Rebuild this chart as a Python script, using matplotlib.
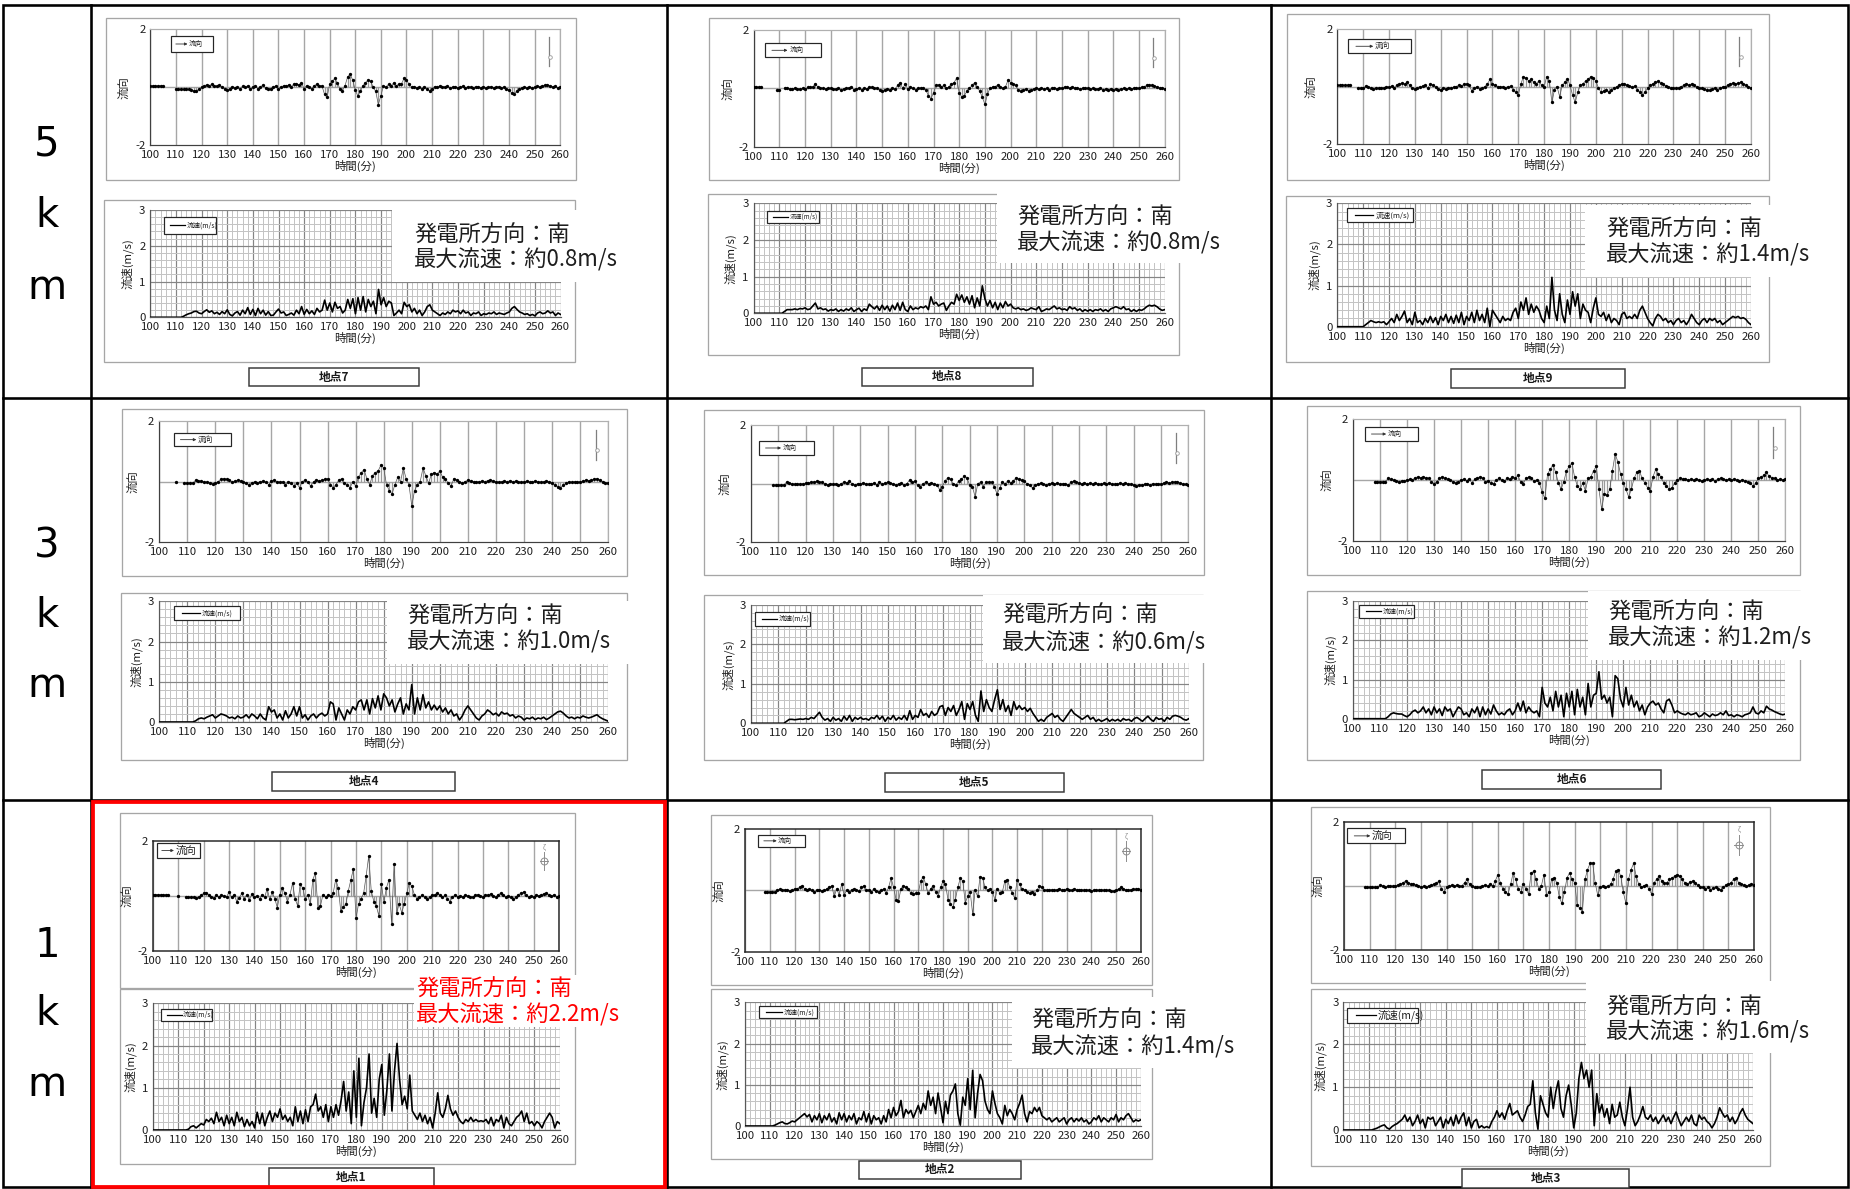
import numpy as np
import matplotlib
matplotlib.use('Agg')
import matplotlib.pyplot as plt
from matplotlib.patches import Rectangle

plt.rcParams['font.family'] = ['Noto Sans CJK JP', 'DejaVu Sans']

nan = float('nan')
T0 = 100  # first minute of every series, one value per minute

# ---------------- data (minute 100 .. 260) ----------------
S7 = [0,0,0,0,0,0,0,0,0,0,
      0,0,0,0.03,0.07,0.1,0.12,0.16,0.17,0.12,
      0.1,0.16,0.21,0.14,0.18,0.1,0.14,0.08,0.16,0.1,
      0.21,0.08,0.04,0.12,0.16,0.06,0.2,0.1,0.27,0.08,
      0.22,0.05,0.25,0.1,0.2,0.06,0.16,0.05,0.06,0.15,
      0.23,0.12,0.15,0.05,0.08,0.12,0.06,0.2,0.1,0.3,
      0.08,0.22,0.1,0.18,0.08,0.25,0.15,0.2,0.48,0.2,
      0.4,0.15,0.42,0.25,0.3,0.12,0.2,0.5,0.25,0.52,
      0.1,0.55,0.2,0.58,0.15,0.5,0.3,0.45,0.1,0.78,
      0.35,0.55,0.3,0.45,0.4,0.05,0.12,0.2,0.1,0.42,
      0.3,0.35,0.15,0.25,0.1,0.2,0.05,0.15,0.3,0.35,
      0.2,0.15,0.1,0.05,0.12,0.08,0.15,0.1,0.2,0.15,
      0.18,0.1,0.2,0.12,0.15,0.05,0.12,0.1,0.15,0.05,
      0.1,0.08,0.12,0.1,0.15,0.08,0.12,0.1,0.08,0.12,
      0.15,0.25,0.3,0.22,0.15,0.12,0.08,0.1,0.05,0.08,
      0.04,0.12,0.15,0.1,0.12,0.18,0.12,0.15,0.05,0.12,
      0.08]
V7 = [0.05,0.05,0.05,0.05,0.05,0.05,nan,nan,nan,nan,
      -0.07,-0.07,-0.07,-0.07,-0.05,-0.08,-0.1,-0.12,-0.12,-0.08,
      0,0.05,0.08,0.05,0.1,0.05,0.03,0.08,0,-0.05,
      -0.1,-0.05,0.02,-0.03,0,-0.06,0.03,0,0.05,-0.08,
      0,0.05,-0.06,0.02,0.06,-0.03,-0.06,-0.05,0,0.05,
      -0.05,0,0.05,0.03,0.08,0.02,0.1,0.12,0.08,0.15,
      -0.05,0.05,0,-0.05,0.05,0.1,0.05,0.05,-0.25,-0.35,
      0.1,0.2,0.3,0.15,-0.05,-0.12,0.05,0.35,0.45,0.25,
      -0.1,-0.3,-0.15,0.05,0.15,0.25,0.2,0,-0.15,-0.6,
      -0.3,0.05,0,0.1,0.05,0.15,0.05,0.1,0.1,0.3,
      0.25,0.1,0,0.02,-0.03,0,-0.05,0.02,-0.08,-0.12,
      -0.05,0.02,0,0.05,0.02,0,0.03,-0.02,0,0.02,
      -0.03,0,0.03,-0.02,0.02,0,-0.03,0.02,0,-0.02,
      0.02,-0.03,0,0.02,-0.02,0,0.02,-0.02,0,-0.05,
      -0.1,-0.2,-0.22,-0.15,-0.08,-0.03,0,-0.03,0.02,-0.02,
      0,0.03,0.02,0.05,0.06,0.08,0.05,0.02,0.03,-0.02,
      0]

S8 = [0,0,0,0,0,0,0,0,0,0,
      0,0,0.05,0.1,0.1,0.1,0.12,0.1,0.13,0.12,
      0.15,0.1,0.12,0.2,0.28,0.12,0.15,0.1,0.12,0.06,
      0.1,0.08,0.12,0.05,0.1,0.06,0.12,0.08,0.15,0.05,
      0.1,0.14,0.05,0.12,0.08,0.25,0.18,0.12,0.2,0.08,
      0.22,0.1,0.2,0.06,0.22,0.1,0.28,0.08,0.3,0.1,
      0.05,0.2,0.1,0.15,0.12,0.18,0.15,0.2,0.1,0.45,
      0.25,0.3,0.2,0.25,0.28,0.08,0.2,0.3,0.25,0.52,
      0.35,0.5,0.3,0.45,0.25,0.48,0.15,0.42,0.2,0.75,
      0.4,0.2,0.35,0.15,0.3,0.1,0.28,0.15,0.32,0.2,
      0.25,0.15,0.12,0.15,0.1,0.12,0.08,0.1,0.15,0.12,
      0.1,0.18,0.05,0.08,0.12,0.1,0.15,0.2,0.12,0.15,
      0.1,0.12,0.08,0.18,0.12,0.15,0.08,0.12,0.05,0.1,
      0.06,0.1,0.05,0.1,0.08,0.12,0.06,0.1,0.05,0.12,
      0.15,0.18,0.15,0.12,0.18,0.1,0.12,0.05,0.1,0.05,
      0.1,0.08,0.12,0.18,0.22,0.2,0.22,0.18,0.12,0.08,
      0.1]
V8 = [0.05,0.05,0.05,0.05,nan,nan,nan,nan,nan,-0.06,
      -0.06,nan,0.02,0,-0.02,-0.03,0,-0.02,-0.03,0,
      -0.02,0.03,0.05,0.05,0.15,0.05,0.02,0,-0.02,0,
      0,-0.02,-0.03,0,-0.05,-0.02,0,0.02,0.05,-0.05,
      -0.03,0,-0.04,0,-0.02,0.05,0.03,0,0.02,-0.05,
      -0.08,-0.05,-0.03,-0.06,0,-0.03,0.1,0.2,0,0.15,
      -0.03,0.03,0,-0.05,0,0.02,0,-0.05,-0.25,-0.35,
      -0.15,0.1,0.12,0.05,0.1,0,0.05,0.15,0.2,0.35,
      -0.15,-0.3,-0.25,-0.1,0,0.1,0.2,0.05,-0.1,-0.3,
      -0.55,-0.2,0,0.05,0.05,0.12,0.05,0,0.05,0.28,
      0.2,0.15,0.1,-0.05,-0.1,-0.05,-0.03,-0.08,-0.05,-0.02,
      0,-0.03,0.02,-0.02,0,-0.05,0,0.02,-0.02,0,
      0.02,0.05,0.03,0,0.05,0.02,0,-0.02,0,0.02,
      0,-0.02,0,-0.03,-0.02,0,-0.05,-0.03,-0.05,-0.02,
      -0.05,-0.03,-0.06,-0.02,0,-0.03,0,-0.02,0,0.02,
      0,0.03,0.05,0.1,0.12,0.1,0.08,0.05,0.02,0,
      -0.02]

S9 = [0,0,0,0,0,0,0,0,0,0,
      0,0.05,0.1,0.15,0.12,0.1,0.12,0.1,0.12,0.05,
      0.12,0.2,0.1,0.3,0.15,0.25,0.38,0.1,0.2,0.05,
      0.35,0.1,0.15,0.05,0.2,0.1,0.25,0.1,0.22,0.05,
      0.25,0.15,0.3,0.1,0.25,0.08,0.28,0.1,0.35,0.05,
      0.25,0.15,0.35,0.1,0.4,0.15,0.3,0.1,0.45,0,
      0.4,0.3,0.2,0.1,0.25,0.15,0.2,0.15,0.35,0.45,
      0.2,0.6,0.4,0.7,0.3,0.55,0.35,0.5,0.4,0.2,
      0.1,0.5,0.2,1.2,0.4,0.15,0.8,0.3,0.1,0.65,
      0.3,0.85,0.5,0.8,0.2,0.55,0.4,0.35,0.1,0.45,
      0.7,0.3,0.25,0.35,0.15,0.3,0.1,0.2,0.15,0.05,
      0.3,0.35,0.2,0.25,0.2,0.3,0.2,0.4,0.5,0.35,
      0.2,0.1,0.02,0.2,0.3,0.25,0.15,0.2,0.1,0.15,
      0.05,0.15,0.2,0.1,0.15,0.05,0.15,0.3,0.2,0.1,
      0.05,0.15,0.2,0.1,0.2,0.15,0.2,0.1,0.15,0.05,
      0.1,0.15,0.2,0.25,0.22,0.25,0.2,0.22,0.18,0.1,
      0.05]
V9 = [0.05,0.05,0.05,0.05,0.05,0.05,nan,nan,-0.05,-0.05,
      -0.05,0.02,-0.02,-0.05,-0.08,-0.06,-0.05,-0.03,-0.05,0,
      -0.02,0.02,-0.03,0.05,0.1,0.12,0.08,0.15,0.05,-0.05,
      -0.08,-0.03,0,0.02,0.05,-0.05,0.1,0.05,0,-0.08,
      -0.1,-0.05,-0.08,-0.03,-0.05,-0.02,0,0.05,0.03,0.08,
      0.1,0.05,-0.15,-0.05,0,-0.08,-0.05,0,0.08,0.25,
      0.1,0.05,0,-0.02,0,-0.03,0,0.02,-0.1,-0.2,
      -0.3,0.1,0.35,0.3,0.2,0.25,0.15,0.1,0.2,0.05,
      0,0.35,0.2,-0.55,-0.1,0,-0.35,0.05,0.15,0.28,
      0.05,-0.3,-0.55,-0.2,0.05,0.1,0.2,0.25,0.35,0.3,
      0.2,-0.05,-0.2,-0.15,-0.1,-0.2,-0.1,-0.05,0,0.05,
      0.1,0.08,0.05,0.03,0,0.02,-0.1,-0.2,-0.3,-0.2,
      -0.05,0.05,0.1,0.15,0.18,0.12,0.08,0.02,0,-0.03,
      -0.05,-0.05,-0.03,0,0.05,0.08,0.05,0.1,0.05,0,
      -0.03,-0.05,-0.08,-0.1,-0.12,-0.08,-0.05,-0.1,-0.05,-0.02,
      0,0.05,0.1,0.12,0.1,0.12,0.15,0.08,0.05,0,
      -0.05]

S4 = [0,0,0,0,0,0,0,0,0,0,
      0,0,0,0.03,0.08,0.1,0.08,0.12,0.15,0.18,
      0.1,0.15,0.2,0.18,0.15,0.1,0.12,0.08,0.15,0.1,
      0.12,0.18,0.1,0.2,0.15,0.08,0.2,0.1,0.05,0.38,
      0.25,0.3,0.1,0.2,0.05,0.28,0.1,0.2,0.38,0.15,
      0.38,0.1,0.18,0.05,0.15,0.2,0.1,0.18,0.22,0.15,
      0.2,0.5,0.45,0.05,0.35,0.2,0.05,0.3,0.2,0.38,
      0.3,0.5,0.55,0.3,0.55,0.2,0.58,0.35,0.65,0.3,
      0.7,0.6,0.4,0.55,0.25,0.45,0.6,0.2,0.45,0.3,
      0.93,0.2,0.6,0.3,0.68,0.35,0.5,0.3,0.42,0.3,
      0.4,0.25,0.35,0.2,0.3,0.15,0.2,0.05,0.15,0.3,
      0.4,0.3,0.2,0.1,0.05,0.15,0.2,0.3,0.25,0.18,
      0.22,0.15,0.25,0.2,0.22,0.15,0.18,0.1,0.15,0.12,
      0.05,0.1,0.08,0.12,0.06,0.1,0.08,0.12,0.06,0.1,
      0.15,0.2,0.25,0.27,0.22,0.15,0.1,0.12,0.08,0.12,
      0.1,0.15,0.12,0.1,0.12,0.15,0.18,0.12,0.08,0.05,
      0.02]
V4 = [nan,nan,nan,nan,nan,nan,0,nan,nan,-0.05,
      -0.05,-0.05,-0.05,0.05,0.03,0.02,0,-0.02,-0.05,-0.08,
      -0.05,0,0.08,0.1,0.08,0.05,0,0.02,0.05,0.03,
      0,-0.05,-0.1,-0.05,0,-0.03,0,0.02,-0.02,-0.1,
      0.02,0.05,0,-0.02,0,-0.1,0,-0.03,-0.15,-0.05,
      -0.2,0,0.05,-0.02,-0.15,0,0.05,0.02,0.05,0.08,
      0.1,-0.1,-0.2,-0.1,0.05,0.1,-0.05,-0.1,-0.2,0,
      -0.15,0.15,0.3,0.4,0.1,-0.1,0.2,0.3,0.35,0.55,
      0.45,-0.1,-0.3,-0.4,-0.1,0.15,0,0.45,0.1,-0.1,
      -0.8,-0.3,-0.1,0,0.45,0.2,-0.05,0.25,0.3,0.25,
      0.35,0.15,0.1,-0.05,-0.15,0.1,0.05,0,-0.05,0,
      0.05,0.02,0,-0.02,0,0.02,0,0.03,0.05,0.02,
      0,-0.02,0,0.02,0,0.03,0,0.02,0,-0.02,
      0,0.02,-0.02,0,0.02,0,-0.02,0,0.02,0,
      -0.05,-0.1,-0.18,-0.2,-0.12,-0.05,0,-0.02,0,-0.02,
      0,0.02,0.05,0.03,0.05,0.08,0.1,0.05,0,-0.05,
      -0.03]

S5 = [0,0,0,0,0,0,0,0,0,0,
      0,0,0,0.05,0.1,0.1,0.09,0.1,0.11,0.1,
      0.12,0.1,0.15,0.12,0.2,0.28,0.15,0.08,0.12,0.05,
      0.15,0.08,0.12,0.05,0.18,0.08,0.2,0.05,0.15,0.1,
      0.15,0.1,0.12,0.08,0.15,0.12,0.2,0.1,0.18,0.05,
      0.15,0.1,0.2,0.08,0.15,0.1,0.2,0.08,0.32,0.1,
      0.2,0.15,0.35,0.2,0.25,0.15,0.3,0.2,0.25,0.42,
      0.45,0.2,0.4,0.3,0.45,0.2,0.35,0.55,0.1,0.5,
      0.35,0.55,0.2,0.05,0.82,0.3,0.6,0.4,0.3,0.6,
      0.85,0.35,0.6,0.3,0.45,0.2,0.55,0.35,0.45,0.35,
      0.4,0.3,0.38,0.25,0.15,0.05,0.1,0.05,0.15,0.2,
      0.25,0.15,0.2,0.1,0.05,0.15,0.25,0.35,0.25,0.2,
      0.15,0.1,0.15,0.2,0.1,0.15,0.05,0.1,0.05,0.08,
      0.12,0.05,0.1,0.06,0.1,0.05,0.12,0.08,0.1,0.05,
      0.12,0.15,0.1,0.05,0.12,0.18,0.1,0.05,0.15,0.1,
      0.12,0.05,0.15,0.1,0.18,0.2,0.18,0.15,0.1,0.08,
      0.12]
V5 = [nan,nan,nan,nan,nan,nan,nan,nan,-0.05,-0.05,
      -0.05,-0.05,-0.05,0.05,0.03,0,-0.02,0,-0.02,0,
      0.02,0.03,0.05,0.06,0.08,0.06,0.05,0,-0.03,0,
      -0.02,0,-0.05,0,0.05,0.03,0.08,0,-0.05,0,
      -0.02,0.02,0,-0.02,0,0.02,-0.03,0.05,0,0.02,
      0.05,0.02,0,-0.05,0,0.02,-0.03,0,0.12,0.05,
      0.08,-0.05,-0.1,0,0.05,0,0.03,0,-0.05,-0.2,
      -0.1,0.1,0.2,0.15,0,-0.05,0.1,0.15,0.25,0.2,
      -0.05,-0.1,-0.45,0,0.05,-0.1,0.05,0.05,0.05,-0.1,
      -0.35,-0.15,0.05,0,0.1,0.02,0.1,0.2,0.15,0.12,
      0.08,0,-0.05,-0.15,-0.05,0,0.02,0,-0.03,0,
      0.02,0,0.02,-0.02,0,0,-0.05,0.05,0.08,0.05,
      0.02,0,0.03,0,0.02,0,0.02,0,-0.02,0.02,
      0,0.02,0,-0.02,0,0.02,0,0.02,0,-0.02,
      -0.05,-0.08,-0.06,-0.04,-0.02,0,-0.03,0,-0.02,0,
      -0.02,0.02,0.05,0.03,0.05,0.06,0.04,0.02,0,-0.02,
      -0.03]

S6 = [0,0,0,0,0,0,0,0,0,0,
      0,0,0,0.05,0.12,0.15,0.13,0.12,0.12,0.08,
      0.05,0.1,0.18,0.22,0.15,0.2,0.3,0.15,0.25,0.1,
      0.3,0.15,0.25,0.08,0.3,0.2,0.25,0.05,0.18,0.3,
      0.25,0.1,0.15,0.05,0.25,0.15,0.3,0.05,0.3,0.1,
      0.25,0.12,0.35,0.2,0.1,0.15,0.1,0.2,0.25,0.1,
      0.2,0.4,0.2,0.45,0.15,0.3,0.2,0.15,0.2,0.05,
      0.8,0.4,0.3,0.55,0.2,0.7,0.3,0.6,0.05,0.65,
      0.3,0.7,0.1,0.75,0.3,0.55,0.1,0.9,0.3,0.6,
      0.65,1.2,0.5,0.6,0.4,0.55,0.05,1.1,1.02,0.5,
      0.3,0.8,0.35,0.6,0.3,0.45,0.2,0.35,0.1,0.3,
      0.4,0.45,0.35,0.4,0.25,0.15,0.45,0.5,0.35,0.15,
      0.2,0.15,0.12,0.1,0.15,0.1,0.12,0.15,0.05,0.08,
      0.15,0.1,0.05,0.12,0.08,0.1,0.15,0.1,0.2,0.08,
      0.1,0.05,0.1,0.08,0.05,0.1,0.12,0.15,0.3,0.15,
      0.12,0.2,0.15,0.32,0.25,0.22,0.18,0.15,0.12,0.1,
      0.12]
V6 = [nan,nan,nan,nan,nan,nan,nan,nan,-0.05,-0.05,
      -0.05,-0.05,-0.05,0.05,0.02,0,-0.03,-0.05,-0.03,-0.02,
      0,0.02,0,0.08,0.1,0.08,0.1,0.08,0.05,-0.05,
      -0.12,-0.05,0.05,0.1,0.05,0.03,0,-0.05,-0.1,-0.05,
      0,0.02,-0.02,0.03,-0.1,0.02,0.08,0.1,0.05,-0.05,
      -0.02,-0.1,-0.12,0,0.05,0,-0.03,0.05,0.02,0.1,
      0.05,0.15,-0.05,-0.12,0.05,0.1,0.05,-0.02,0,-0.1,
      -0.4,-0.6,0.2,0.35,0.5,0.25,-0.1,-0.3,-0.05,0.3,
      0.45,0.55,0.1,-0.2,-0.3,-0.1,-0.35,0.05,0.1,0.3,
      0.45,-0.3,-0.95,-0.45,-0.5,-0.3,0.3,0.85,0.6,0.2,
      -0.1,-0.3,-0.55,-0.3,0.05,0.25,0.3,0.05,-0.1,-0.25,
      -0.35,0.1,0.35,0.2,0.1,-0.1,-0.2,-0.3,-0.25,-0.1,
      0,0.05,0.03,0.02,0,0.02,0,0.03,0,-0.02,
      0,0.02,0,0.02,-0.02,0.03,0.05,0.02,0,0.02,
      0,0.02,0,-0.02,0,-0.03,-0.05,-0.1,-0.2,-0.1,
      0.05,0.1,0.15,0.25,0.12,0.08,0.05,0,0.02,0,
      0.02]

S1 = [0,0,0,0,0,0,0,0,0,0,
      0,0,0,0,0.02,0.08,0.1,0.05,0.1,0.15,
      0.12,0.25,0.2,0.28,0.15,0.42,0.2,0.3,0.1,0.35,
      0.15,0.3,0.1,0.42,0.2,0.3,0.08,0.25,0.1,0.2,
      0.05,0.42,0.15,0.4,0.1,0.3,0.45,0.2,0.4,0.3,
      0.5,0.25,0.35,0.2,0.3,0.1,0.55,0.2,0.45,0.15,
      0.48,0.2,0.55,0.6,0.85,0.45,0.55,0.3,0.6,0.2,
      0.55,0.3,0.6,0.35,0.7,1.15,0.45,0.9,0.15,1.4,
      0.3,1.7,0.1,0.65,1.0,1.8,0.4,0.75,0.3,1.2,
      1.55,0.35,0.95,1.8,0.45,1.4,2.05,1.2,0.6,0.8,
      0.5,1.3,0.45,0.35,0.25,0.4,0.2,0.35,0.15,0.3,
      0.05,0.4,0.88,0.4,0.3,0.5,0.82,0.5,0.35,0.45,
      0.3,0.2,0.15,0.25,0.2,0.3,0.2,0.25,0.2,0.22,
      0.2,0.25,0.15,0.3,0.1,0.25,0.2,0.35,0.05,0.3,
      0.15,0.1,0.2,0.3,0.35,0.45,0.2,0.4,0.15,0.2,
      0.1,0.2,0.15,0.05,0.2,0.3,0.4,0.3,0.05,0.2,
      0.15]
V1 = [0.05,0.05,0.05,0.05,0.05,0.05,0.05,nan,nan,nan,
      0,nan,nan,-0.02,-0.03,-0.05,-0.04,-0.06,-0.05,0.02,
      0.1,0.12,0.05,-0.05,-0.08,0.02,-0.05,0.03,0,-0.03,
      0.15,-0.05,0.05,-0.2,-0.08,0.1,-0.1,0.05,-0.15,0.08,
      -0.05,0,-0.1,0.05,-0.05,0.27,-0.12,0.15,-0.1,-0.42,
      0.05,0.3,0.1,-0.2,0.05,0.46,-0.1,-0.35,0.42,0.3,
      -0.1,0.05,-0.3,0.6,0.84,-0.42,-0.35,0.05,-0.05,0.02,
      0,0.1,0.6,0.3,-0.55,-0.4,-0.3,0.2,0.6,1.0,
      -0.8,-0.3,-0.1,0.1,0.73,1.45,0.2,-0.2,-0.36,-0.72,
      0.42,-0.2,0.3,0.6,-1.0,1.15,-0.6,-0.3,-0.6,-0.3,
      0.1,0.48,0.35,0.05,-0.1,-0.05,0.02,-0.05,-0.1,-0.05,
      0.02,0.05,0.1,0.03,-0.05,0.02,-0.1,-0.2,-0.05,0.05,
      -0.02,0,-0.03,0.02,0,-0.03,-0.05,0.02,0.05,0,
      -0.05,0.05,0.02,0.08,0,-0.05,0.05,0.1,0.02,-0.05,
      0,-0.05,-0.1,-0.05,0.05,0.1,0.15,0.05,-0.05,0,
      -0.05,0.05,0,0.05,0.08,0.1,0.05,0,0.05,-0.02,
      0]

S2 = [0,0,0,0,0,0,0,0,0,0,
      0,0,0.02,0.05,0.08,0.1,0.06,0.05,0.08,0.12,
      0.1,0.15,0.2,0.25,0.3,0.22,0.28,0.1,0.25,0.15,
      0.3,0.08,0.25,0.15,0.3,0.1,0.2,0.05,0.32,0.15,
      0.3,0.1,0.25,0.15,0.3,0.05,0.2,0.15,0.35,0.1,
      0.3,0.05,0.25,0.15,0.2,0.05,0.25,0.1,0.4,0.2,
      0.45,0.25,0.35,0.62,0.2,0.4,0.3,0.38,0.2,0.35,
      0.5,0.3,0.55,0.4,0.85,0.5,0.7,0.3,0.8,0.45,
      0.08,0.6,0.3,0.75,0.85,1.02,0.3,0.02,0.7,0.5,
      1.15,0.4,1.35,0.2,0.8,1.25,1.1,0.6,0.4,0.3,
      0.85,0.55,0.3,0.2,0.05,0.5,0.25,0.4,0.3,0.15,
      0.4,0.55,0.75,0.3,0.1,0.35,0.3,0.45,0.35,0.45,
      0.25,0.2,0.15,0.2,0.1,0.15,0.2,0.1,0.15,0.2,
      0.05,0.15,0.2,0.1,0.18,0.12,0.2,0.1,0.15,0.05,
      0.1,0.2,0.15,0.25,0.1,0.2,0.15,0.1,0.2,0.15,
      0.28,0.1,0.2,0.15,0.25,0.3,0.2,0.1,0.15,0.12,
      0.15]
V2 = [nan,nan,nan,nan,nan,nan,nan,nan,-0.05,-0.05,
      -0.05,-0.05,-0.05,0.02,0.03,0,0.02,0,-0.02,0.02,
      0.05,0.05,0.1,0.15,0.05,0.02,0.03,0,-0.05,0,
      0.02,-0.02,0,0.05,0.1,0.15,-0.2,0.05,-0.15,0.2,
      -0.15,0,-0.05,0.02,0.05,0,-0.03,0.1,0.15,0.02,
      0,-0.05,0.05,-0.02,-0.05,0,0.05,-0.1,0.1,0.4,
      0.1,-0.3,-0.35,0.05,0.15,0.1,0.05,-0.1,-0.12,-0.1,
      -0.08,0.3,0.45,0.2,-0.1,0.05,0.15,-0.05,-0.2,0.1,
      0.3,0.2,-0.3,-0.45,-0.55,-0.3,0.1,0.4,0.3,-0.4,
      -0.2,-0.05,-0.78,0,-0.2,0.45,0.4,0.1,0,0.05,
      -0.05,-0.3,0.05,-0.1,-0.05,0.3,0.35,0.1,-0.1,-0.25,
      0.35,0.2,0.05,0,-0.05,-0.1,-0.05,-0.12,0,0.15,
      0.1,0.02,0,0,0.02,0,0.02,0.05,0,0.02,
      0.05,0.02,0,0.05,0.02,0,0.02,0,0.02,0,
      -0.02,0,0.02,0,0.02,0,0.02,0,-0.02,-0.03,
      0,0.05,0.1,0.05,0.02,0,0.02,0.05,0.03,0.05,
      0]

S3 = [0,0,0,0,0,0,0,0,0,0,
      0,0,0.02,0.04,0.07,0.1,0.12,0.05,0.02,0.08,
      0.12,0.15,0.2,0.25,0.35,0.2,0.3,0.1,0.2,0.35,
      0.15,0.25,0.05,0.3,0.25,0.3,0.1,0.2,0.3,0.05,
      0.25,0.15,0.3,0.1,0.35,0.15,0.3,0.4,0.1,0.3,
      0.05,0.2,0.25,0.05,0.1,0.05,0.08,0.05,0.2,0.3,
      0.45,0.3,0.4,0.25,0.45,0.62,0.35,0.4,0.45,0.3,
      0.2,0.35,0.55,0.6,1.15,0.4,0.02,0.8,0.6,0.4,
      0.3,1.0,0.5,0.9,1.15,0.5,0.3,0.8,1.05,0.6,
      0.05,0.4,1.2,1.58,1.2,1.4,1.0,1.4,0.1,0.85,
      0.4,0.6,0.3,0.5,0.15,0.6,0.3,0.35,0.65,0.3,
      0.1,0.5,1.0,0.3,0.1,0.2,0.35,0.55,0.3,0.25,
      0.35,0.2,0.3,0.15,0.25,0.35,0.2,0.3,0.15,0.3,
      0.42,0.25,0.1,0.2,0.3,0.2,0.35,0.15,0.1,0.35,
      0.25,0.3,0.2,0.15,0.05,0.15,0.3,0.52,0.4,0.3,
      0.35,0.2,0.3,0.15,0.25,0.4,0.5,0.35,0.25,0.2,
      0.15]
V3 = [nan,nan,nan,nan,nan,nan,nan,nan,-0.05,-0.05,
      -0.05,-0.05,-0.05,-0.05,0.02,0,-0.03,-0.02,0,-0.02,
      0,0.02,0.05,0.1,0.15,0.08,0.05,0.05,0.02,0,
      -0.03,-0.02,-0.05,0,0.02,0.05,0.08,0.15,-0.1,-0.2,
      -0.05,0,0.02,0,0.02,-0.02,0,0.1,0.2,0.05,
      -0.02,-0.05,-0.03,-0.05,0,0.02,-0.02,0.05,0,0.15,
      0.35,0.1,-0.1,-0.2,-0.25,0.05,0.4,0.2,-0.1,-0.2,
      0.05,-0.1,-0.25,0.4,0.45,0.2,-0.1,0,0.35,-0.3,
      -0.2,0.2,0.25,0.1,-0.35,-0.55,-0.2,0.25,0.4,0.2,
      0.1,-0.6,-0.7,-0.8,0.2,0.5,0.7,0.72,0.1,-0.3,
      -0.05,0,-0.03,-0.02,0.05,0.2,0.45,0.5,0.3,-0.2,
      -0.55,0.2,0.5,0.7,0.3,0.05,-0.05,0,0.02,-0.1,
      -0.25,0.1,0.2,0.3,0.15,0.08,0.1,0.2,0.25,0.3,
      0.35,0.3,0.2,0.1,0.05,0.12,0.15,0.08,0.02,-0.03,
      -0.05,-0.1,-0.05,-0.12,-0.08,-0.05,-0.1,-0.12,-0.05,0.02,
      0.05,0.1,0.2,0.25,0.1,0.05,0.02,0,0.02,0.05,
      0.03]

POINT_NAMES = ['地点7', '地点8', '地点9', '地点4', '地点5', '地点6', '地点1', '地点2', '地点3']
MAX_SPEED_LABELS = ['0.8', '0.8', '1.4', '1.0', '0.6', '1.2', '2.2', '1.4', '1.6']
DIRECTION_LABEL = '南'
ROW_LABELS = ['5', '3', '1']
X_TICKS = list(range(100, 261, 10))

# ---------------- layout (pixel coordinates of the 1850x1189 canvas) ----------------
W, H = 1850, 1189
LAYOUT = [
    dict(vb=(105.5, 18, 575.8, 180), va=(150.3, 29.3, 560.2, 145), sb=(104, 200, 574.6, 361.7),
         sa=(150.3, 210, 560.6, 317.3), lab=(249, 368, 419, 386), note=(392, 210, 624, 282), txt=(414, 235, 260),
         vleg=(0.05, 0.804, 0.152, 0.942), sleg=(0.033, 0.774, 0.16, 0.938), vfs=5, sfs=5, big=False),
    dict(vb=(708.6, 18.3, 1179.3, 180), va=(753.7, 30, 1164.7, 146.7), sb=(707.8, 194, 1178.6, 355.3),
         sa=(753.7, 203.3, 1164.7, 313.3), lab=(861.5, 367.7, 1033, 386), note=(997, 193, 1230, 263), txt=(1017, 217, 243),
         vleg=(0.028, 0.766, 0.164, 0.886), sleg=(0.033, 0.824, 0.158, 0.933), vfs=5, sfs=4.5, big=False),
    dict(vb=(1286.6, 14, 1769.4, 180), va=(1337.3, 29.3, 1751, 144), sb=(1286, 196, 1768.7, 361.7),
         sa=(1337.3, 203.3, 1751, 326.7), lab=(1450.5, 369.3, 1625.2, 388.3), note=(1585, 205, 1816, 277), txt=(1606, 229, 255),
         vleg=(0.027, 0.791, 0.177, 0.913), sleg=(0.023, 0.846, 0.184, 0.959), vfs=5.5, sfs=5.5, big=False),
    dict(vb=(122.4, 409, 626.6, 576.3), va=(159.2, 421.3, 608.2, 542), sb=(121.3, 593, 626.6, 759.7),
         sa=(159.2, 601.3, 608.2, 722), lab=(272.2, 772, 455.1, 791.3), note=(387, 601, 630, 664), txt=(407, 616, 642),
         vleg=(0.032, 0.793, 0.159, 0.903), sleg=(0.032, 0.843, 0.18, 0.959), vfs=5.5, sfs=5, big=False),
    dict(vb=(704.3, 410, 1203.7, 575), va=(751, 425, 1188.3, 542.3), sb=(703.5, 595, 1202.9, 760),
         sa=(751, 605, 1189, 723.3), lab=(884.6, 772.7, 1064.1, 791.7), note=(983, 595, 1212, 663), txt=(1002, 615, 643),
         vleg=(0.018, 0.744, 0.145, 0.864), sleg=(0.009, 0.825, 0.134, 0.943), vfs=5, sfs=5, big=False),
    dict(vb=(1307.2, 406.3, 1799.8, 575.3), va=(1353, 418.7, 1785.4, 541.3), sb=(1307.2, 591.3, 1799.8, 759.7),
         sa=(1353, 601.3, 1785.4, 718.7), lab=(1482.2, 769.7, 1661.3, 788.7), note=(1588, 591, 1818, 660), txt=(1608, 612, 638),
         vleg=(0.028, 0.82, 0.15, 0.93), sleg=(0.015, 0.857, 0.14, 0.971), vfs=5, sfs=5, big=False),
    dict(vb=(119.6, 813.3, 575.4, 987.7), va=(152.9, 841, 559.1, 951), sb=(119.6, 989.3, 575.4, 1164),
         sa=(152.9, 1003.3, 559.8, 1130), lab=(268.7, 1168.3, 434, 1186.7), note=(414, 975, 626, 1027), txt=(416, 989, 1015),
         vleg=(0.009, 0.845, 0.116, 0.982), sleg=(0.021, 0.863, 0.145, 0.953), vfs=7.5, sfs=5, big=True),
    dict(vb=(711.3, 815, 1152.4, 985), va=(745.2, 829, 1140.8, 951.7), sb=(711.3, 989, 1152.4, 1159.3),
         sa=(745.2, 1002.3, 1140.8, 1126), lab=(858.8, 1161, 1020.6, 1179), note=(1012, 997, 1240, 1068), txt=(1031, 1020, 1047),
         vleg=(0.033, 0.856, 0.15, 0.951), sleg=(0.034, 0.871, 0.182, 0.97), vfs=5, sfs=5, big=True),
    dict(vb=(1310.9, 806.7, 1769.5, 982.7), va=(1344.1, 821.7, 1754, 950), sb=(1310.9, 989.3, 1769.5, 1165.7),
         sa=(1343.4, 1001.7, 1752.9, 1130), lab=(1461.9, 1169.3, 1629.2, 1187.7), note=(1586, 981, 1812, 1053), txt=(1606, 1007, 1032),
         vleg=(0.008, 0.831, 0.148, 0.948), sleg=(0.01, 0.837, 0.182, 0.949), vfs=7.5, sfs=7.5, big=True),
]
SPEEDS = [S7, S8, S9, S4, S5, S6, S1, S2, S3]
VECTORS = [V7, V8, V9, V4, V5, V6, V1, V2, V3]
TEXT_COLORS = ['#1e1e1e'] * 6 + ['#ff0000', '#1e1e1e', '#1e1e1e']

PX = 0.72  # points per pixel at dpi 100
TICK_COLOR = '#1f1f1f'
TICK_FS = 8.2
LABEL_FS = 8.2

fig = plt.figure(figsize=(W / 100, H / 100), dpi=100)
fig.patch.set_facecolor('white')


def frac(r):
    x0, y0, x1, y1 = r
    return [x0 / W, 1 - y1 / H, (x1 - x0) / W, (y1 - y0) / H]


bg = fig.add_axes([0, 0, 1, 1], zorder=0)
bg.set_xlim(0, W)
bg.set_ylim(H, 0)
bg.axis('off')

ov = fig.add_axes([0, 0, 1, 1], zorder=50)
ov.set_xlim(0, W)
ov.set_ylim(H, 0)
ov.axis('off')
ov.patch.set_alpha(0)

# table frame
bg.add_patch(Rectangle((3, 5), 1845, 1182, fill=False, ec='black', lw=2.6 * PX))
for x in (91, 667, 1271):
    bg.plot([x, x], [5, 1187], color='black', lw=2.6 * PX)
for y in (398, 800):
    bg.plot([3, 1848], [y, y], color='black', lw=2.6 * PX)

# row labels
row_baselines = [(155, 227, 299), (557, 627, 697), (957, 1025, 1096)]
for lab, ys in zip(ROW_LABELS, row_baselines):
    for ch, yb in zip([lab, 'k', 'm'], ys):
        bg.text(47, yb, ch, fontsize=29, ha='center', va='baseline', family=['DejaVu Sans'], color='black')


def legend_box(ax, box, label, fs, arrow):
    x0, y0, x1, y1 = box
    ax.add_patch(Rectangle((x0, y0), x1 - x0, y1 - y0, transform=ax.transAxes, fc='white',
                           ec='#262626', lw=1.2 * PX, zorder=8, clip_on=False))
    w = x1 - x0
    ym = (y0 + y1) / 2
    lx0, lx1 = x0 + 0.12 * w, x0 + 0.40 * w
    if arrow:
        ax.annotate('', xy=(lx1, ym), xytext=(lx0, ym), xycoords='axes fraction',
                    arrowprops=dict(arrowstyle='-|>', lw=0.6, color='#333333', mutation_scale=4,
                                    shrinkA=0, shrinkB=0), zorder=9)
    else:
        ax.plot([lx0, lx1], [ym, ym], transform=ax.transAxes, color='black', lw=0.9, zorder=9, clip_on=False)
    ax.text(lx1 + 0.03 * w, ym, label, transform=ax.transAxes, fontsize=fs, va='center', ha='left',
            zorder=9, color='#1a1a1a')


for i, lay in enumerate(LAYOUT):
    spd = np.array(SPEEDS[i], float)
    vec = np.array(VECTORS[i], float)
    ts = T0 + np.arange(len(spd))
    tv = T0 + np.arange(len(vec))

    # chart frames
    for key in ('vb', 'sb'):
        x0, y0, x1, y1 = lay[key]
        bg.add_patch(Rectangle((x0, y0), x1 - x0, y1 - y0, fc='white', ec='#a6a6a6', lw=1.3 * PX))

    # ---------- direction (stick) chart ----------
    ax = fig.add_axes(frac(lay['va']), zorder=5)
    ax.set_xlim(100, 260)
    ax.set_ylim(-2, 2)
    ax.set_xticks(X_TICKS)
    ax.set_yticks([-2, 2])
    ax.set_yticklabels(['-2', '2'])
    ax.grid(axis='x', color='#a6a6a6', lw=1.4 * PX)
    ax.set_axisbelow(True)
    ax.axhline(0, color='#a6a6a6', lw=1.4 * PX, zorder=1)
    ax.vlines(tv, 0, vec, colors='#9a9a9a', lw=0.9, zorder=2)
    ax.plot(tv, vec, color='#555555', lw=0.5, zorder=3)
    ax.plot(tv, vec, ls='none', marker='o', ms=2.4, mew=0, color='black', zorder=4)
    ax.tick_params(which='both', length=0, labelsize=TICK_FS, colors=TICK_COLOR, pad=3.5)
    ax.set_xlabel('時間(分)', fontsize=LABEL_FS, color=TICK_COLOR, labelpad=0)
    ax.set_ylabel('流向', fontsize=LABEL_FS, color=TICK_COLOR, labelpad=4)
    if lay['big']:
        for s in ax.spines.values():
            s.set_color('#262626')
            s.set_linewidth(1.5 * PX)
    else:
        for s in ('left', 'bottom'):
            ax.spines[s].set_color('#404040')
            ax.spines[s].set_linewidth(1.2 * PX)
        for s in ('top', 'right'):
            ax.spines[s].set_color('#b0b0b0')
            ax.spines[s].set_linewidth(1.2 * PX)
    legend_box(ax, lay['vleg'], '流向', lay['vfs'], True)
    # north mark
    if lay['big']:
        ax.plot([254, 254], [0.95, 1.6], color='#8c8c8c', lw=0.7, zorder=6)
        ax.plot([252.3, 255.7], [1.28, 1.28], color='#8c8c8c', lw=0.7, zorder=6)
        ax.plot(254, 1.28, marker='o', ms=5, mfc='none', mec='#8c8c8c', mew=0.7, zorder=6)
        ax.text(254, 1.75, 'ζ', fontsize=4.5, color='#8c8c8c', ha='center', va='center', zorder=6)
    else:
        ax.plot([255.5, 255.5], [0.72, 1.72], color='#7f7f7f', lw=0.9, zorder=6)
        ax.plot(256, 1.05, marker='o', ms=2.6, mfc='white', mec='#9a9a9a', mew=0.6, zorder=6)

    # ---------- speed chart ----------
    bx = fig.add_axes(frac(lay['sa']), zorder=5)
    bx.set_xlim(100, 260)
    bx.set_ylim(0, 3)
    bx.set_xticks(X_TICKS)
    bx.set_xticks(np.arange(100, 261, 2), minor=True)
    bx.set_yticks([0, 1, 2, 3])
    bx.set_yticks(np.arange(0, 3.01, 0.2), minor=True)
    bx.grid(which='minor', color='#c4c4c4', lw=1.0 * PX)
    bx.grid(which='major', color='#858585', lw=1.2 * PX)
    bx.set_axisbelow(True)
    bx.plot(ts, spd, color='black', lw=1.2, zorder=4)
    bx.tick_params(which='both', length=0, labelsize=TICK_FS, colors=TICK_COLOR, pad=3.5)
    bx.set_xlabel('時間(分)', fontsize=LABEL_FS, color=TICK_COLOR, labelpad=0)
    bx.set_ylabel('流速(m/s)', fontsize=LABEL_FS, color=TICK_COLOR, labelpad=4)
    for s in ('top', 'right'):
        bx.spines[s].set_visible(False)
    for s in ('left', 'bottom'):
        bx.spines[s].set_color('#595959')
        bx.spines[s].set_linewidth(1.2 * PX)
    legend_box(bx, lay['sleg'], '流速(m/s)', lay['sfs'], False)

    # ---------- note & point label ----------
    x0, y0, x1, y1 = lay['note']
    ov.add_patch(Rectangle((x0, y0), x1 - x0, y1 - y0, fc='white', ec='none'))
    tx, ty1, ty2 = lay['txt']
    ov.text(tx, ty1, '発電所方向：' + DIRECTION_LABEL, fontsize=16, ha='left', va='center',
            color=TEXT_COLORS[i])
    ov.text(tx, ty2, '最大流速：約' + MAX_SPEED_LABELS[i] + 'm/s', fontsize=16, ha='left',
            va='center', color=TEXT_COLORS[i])
    x0, y0, x1, y1 = lay['lab']
    ov.add_patch(Rectangle((x0, y0), x1 - x0, y1 - y0, fc='white', ec='#3a3a3a', lw=1.5 * PX))
    ov.text((x0 + x1) / 2, (y0 + y1) / 2, POINT_NAMES[i], fontsize=8.5, ha='center', va='center',
            color='#1a1a1a', fontweight='bold')

# red highlight of 地点1 cell
ov.add_patch(Rectangle((93, 802), 572, 385, fill=False, ec='#ff0000', lw=3.8 * PX))

fig.savefig('out.png', dpi=100, facecolor='white')
